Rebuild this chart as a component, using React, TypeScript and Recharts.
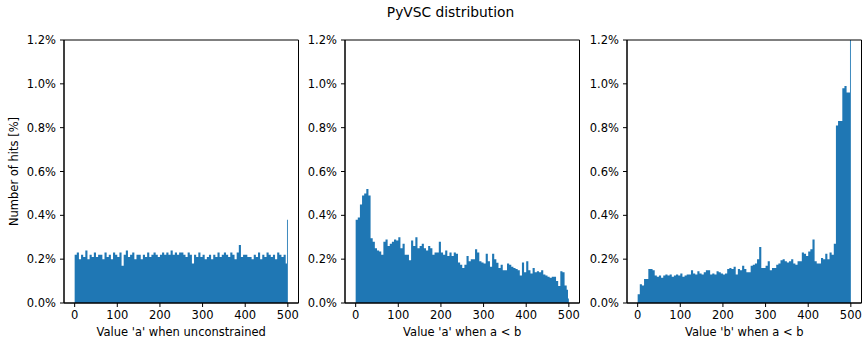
import { AreaChart, Area, XAxis, YAxis, ReferenceArea } from "recharts";

// hit percentages per 5-wide bin, starting at 0
const unconstrainedA = [
  0.22, 0.23, 0.2, 0.22, 0.21, 0.24, 0.2, 0.22, 0.21, 0.23,
  0.21, 0.22, 0.22, 0.2, 0.23, 0.21, 0.22, 0.2, 0.23, 0.22,
  0.21, 0.23, 0.17, 0.22, 0.24, 0.21, 0.22, 0.23, 0.2, 0.22,
  0.22, 0.2, 0.22, 0.21, 0.23, 0.21, 0.22, 0.23, 0.22, 0.21,
  0.22, 0.23, 0.22, 0.23, 0.22, 0.24, 0.22, 0.23, 0.22, 0.23,
  0.23, 0.22, 0.21, 0.23, 0.22, 0.18, 0.22, 0.21, 0.23, 0.21,
  0.22, 0.2, 0.21, 0.22, 0.2, 0.22, 0.21, 0.23, 0.21, 0.22,
  0.23, 0.22, 0.21, 0.23, 0.22, 0.2, 0.23, 0.265, 0.21, 0.22,
  0.22, 0.21, 0.21, 0.2, 0.22, 0.21, 0.23, 0.2, 0.22, 0.21,
  0.23, 0.22, 0.21, 0.22, 0.2, 0.23, 0.22, 0.21, 0.22, 0.18,
];

const constrainedA = [
  0.38, 0.39, 0.45, 0.49, 0.5, 0.52, 0.49, 0.295, 0.28, 0.25,
  0.24, 0.235, 0.22, 0.28, 0.29, 0.26, 0.27, 0.28, 0.29, 0.285,
  0.3, 0.25, 0.27, 0.22, 0.22, 0.195, 0.285, 0.26, 0.3, 0.25,
  0.26, 0.27, 0.25, 0.24, 0.26, 0.25, 0.22, 0.23, 0.23, 0.28,
  0.23, 0.22, 0.24, 0.215, 0.23, 0.215, 0.23, 0.225, 0.185, 0.175,
  0.16, 0.175, 0.215, 0.19, 0.2, 0.2, 0.245, 0.23, 0.19, 0.185,
  0.18, 0.225, 0.19, 0.165, 0.225, 0.2, 0.184, 0.16, 0.175, 0.15,
  0.15, 0.18, 0.175, 0.165, 0.16, 0.155, 0.15, 0.125, 0.185, 0.14,
  0.19, 0.15, 0.135, 0.16, 0.14, 0.145, 0.14, 0.15, 0.13, 0.125,
  0.12, 0.115, 0.12, 0.12, 0.1, 0.078, 0.145, 0.14, 0.08, 0.06,
];

const constrainedB = [
  0.04, 0.085, 0.08, 0.11, 0.11, 0.155, 0.155, 0.15, 0.125, 0.12,
  0.125, 0.115, 0.125, 0.13, 0.125, 0.13, 0.12, 0.125, 0.13, 0.125,
  0.135, 0.12, 0.125, 0.13, 0.13, 0.15, 0.135, 0.13, 0.145, 0.135,
  0.13, 0.14, 0.15, 0.15, 0.13, 0.135, 0.13, 0.145, 0.14, 0.135,
  0.13, 0.135, 0.155, 0.16, 0.155, 0.165, 0.13, 0.155, 0.15, 0.17,
  0.155, 0.14, 0.14, 0.17, 0.175, 0.18, 0.2, 0.255, 0.16, 0.16,
  0.17, 0.19, 0.15, 0.16, 0.16, 0.175, 0.18, 0.195, 0.2, 0.19,
  0.185, 0.19, 0.2, 0.18, 0.175, 0.19, 0.19, 0.23, 0.225, 0.215,
  0.235, 0.245, 0.29, 0.19, 0.18, 0.18, 0.205, 0.2, 0.225, 0.2,
  0.23, 0.22, 0.27, 0.81, 0.83, 0.83, 0.98, 0.99, 0.96, 0.96,
];

// narrow last bins (value 498..500)
const unconstrainedATail = [{ x: 498, pct: 0.38 }];
const constrainedATail = [{ x: 498, pct: 0.02 }];
const constrainedBTail = [{ x: 498, pct: 1.25 }];

const xTicks = [0, 100, 200, 300, 400, 500];
const yTicks = [0, 0.2, 0.4, 0.6, 0.8, 1.0, 1.2];

const BIN = 5;
const X_DOMAIN: [number, number] = [-25, 525];
const Y_DOMAIN: [number, number] = [0, 1.2];
const FONT = "DejaVu Sans";
const tickStyle = { fill: "#000", fontSize: 11.5, fontFamily: FONT };

function toRows(pcts: number[], tail: { x: number; pct: number }[]) {
  const rows = pcts.map((pct, i) => ({ x: i * BIN, pct }));
  return [...rows, ...tail, { x: 500, pct: 0 }];
}

interface PanelProps {
  pcts: number[];
  tail: { x: number; pct: number }[];
  xLabel: string;
  left: number;
  yLabel?: string;
}

function Panel({ pcts, tail, xLabel, left, yLabel }: PanelProps) {
  return (
    <div style={{ position: "absolute", left, top: 0 }}>
      <AreaChart
        width={294.5}
        height={345}
        data={toRows(pcts, tail)}
        margin={{ top: 40, right: 0, bottom: 0, left: 0 }}
      >
        <XAxis
          dataKey="x"
          type="number"
          domain={X_DOMAIN}
          ticks={xTicks}
          interval={0}
          height={42}
          tick={tickStyle}
          tickSize={4}
          tickMargin={4}
          stroke="#000"
          label={{
            value: xLabel,
            position: "insideBottom",
            offset: 9.5,
            style: { fill: "#000", fontSize: 11.5, fontFamily: FONT },
          }}
        />
        <YAxis
          type="number"
          domain={Y_DOMAIN}
          allowDataOverflow
          ticks={yTicks}
          interval={0}
          width={60}
          tick={tickStyle}
          tickSize={4}
          tickMargin={4}
          tickFormatter={(v: number) => `${v.toFixed(1)}%`}
          stroke="#000"
          label={
            yLabel
              ? {
                  value: yLabel,
                  angle: -90,
                  position: "insideLeft",
                  offset: 10,
                  style: { textAnchor: "middle", fill: "#000", fontSize: 11.5, fontFamily: FONT },
                }
              : undefined
          }
        />
        <Area
          type="stepAfter"
          dataKey="pct"
          stroke="none"
          fill="#1f77b4"
          fillOpacity={1}
          dot={false}
          activeDot={false}
          isAnimationActive={false}
        />
        {/* frame: top and right spines */}
        <ReferenceArea
          x1={X_DOMAIN[0]}
          x2={X_DOMAIN[1]}
          y1={Y_DOMAIN[0]}
          y2={Y_DOMAIN[1]}
          fill="none"
          fillOpacity={0}
          stroke="#000"
          strokeWidth={1}
          ifOverflow="visible"
        />
      </AreaChart>
    </div>
  );
}

export default function App() {
  return (
    <div
      style={{
        position: "absolute",
        left: 0,
        top: 0,
        width: 862,
        height: 345,
        background: "#fff",
        overflow: "hidden",
      }}
    >
      <svg width={862} height={30} style={{ position: "absolute", left: 0, top: 0 }}>
        <text x={450.5} y={17} textAnchor="middle" fontFamily={FONT} fontSize={13.8} fill="#000">
          PyVSC distribution
        </text>
      </svg>
      <Panel
        pcts={unconstrainedA}
        tail={unconstrainedATail}
        xLabel="Value 'a' when unconstrained"
        yLabel="Number of hits [%]"
        left={4}
      />
      <Panel pcts={constrainedA} tail={constrainedATail} xLabel="Value 'a' when a < b" left={285} />
      <Panel pcts={constrainedB} tail={constrainedBTail} xLabel="Value 'b' when a < b" left={567} />
    </div>
  );
}
